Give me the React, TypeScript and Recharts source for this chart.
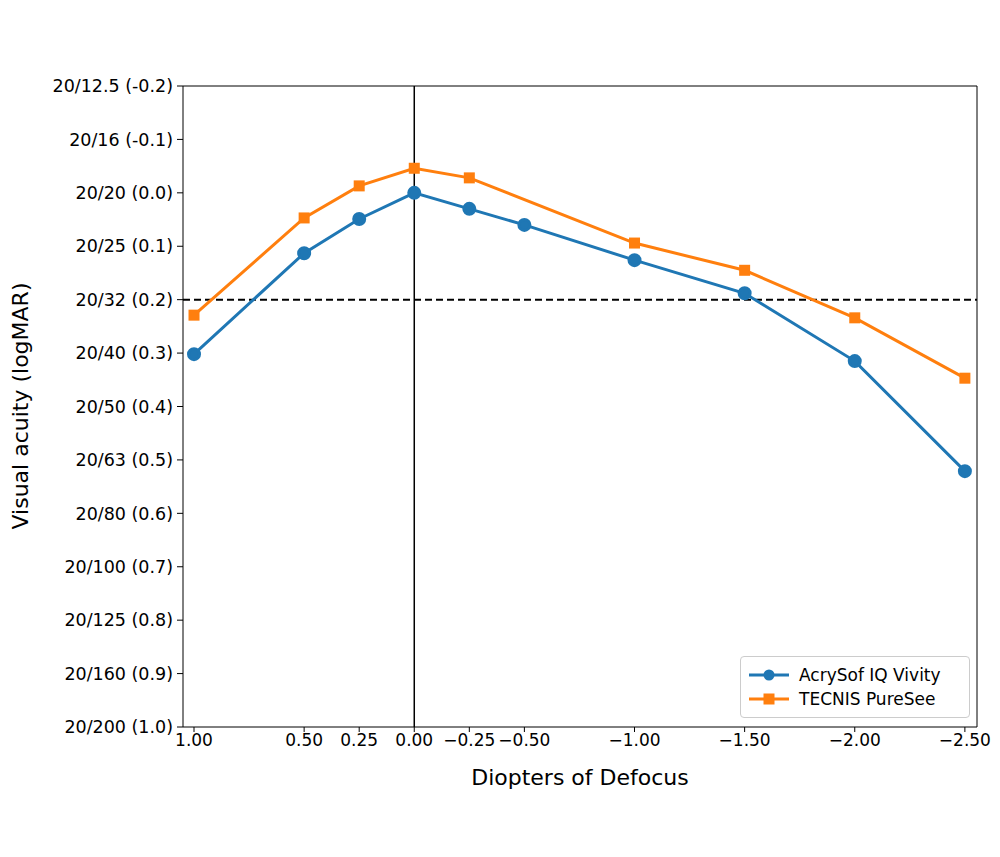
import { LineChart, Line, XAxis, YAxis, ReferenceLine } from 'recharts'

const DEFOCUS = [1.0, 0.5, 0.25, 0.0, -0.25, -0.5, -1.0, -1.5, -2.0, -2.5]
const VIVITY = [0.302, 0.113, 0.049, 0.0, 0.03, 0.06, 0.126, 0.188, 0.315, 0.521]
const PURESEE_X = [1.0, 0.5, 0.25, 0.0, -0.25, -1.0, -1.5, -2.0, -2.5]
const PURESEE = [0.229, 0.047, -0.013, -0.046, -0.028, 0.094, 0.145, 0.234, 0.347]
const Y_TICKS = [-0.2, -0.1, 0, 0.1, 0.2, 0.3, 0.4, 0.5, 0.6, 0.7, 0.8, 0.9, 1.0]
const SNELLEN = ['12.5', '16', '20', '25', '32', '40', '50', '63', '80', '100', '125', '160', '200']

const vivityData = DEFOCUS.map((x, i) => ({ x, v: VIVITY[i] }))
const pureData = PURESEE_X.map((x, i) => ({ x, v: PURESEE[i] }))

const BLUE = '#1f77b4'
const ORANGE = '#ff7f0e'
const FONT = 'DejaVu Sans, sans-serif'

const fmtX = (v: number) => v.toFixed(2).replace('-', '\u2212')
const fmtY = (v: number) => {
  const i = Y_TICKS.findIndex((t) => Math.abs(t - v) < 1e-6)
  return `20/${SNELLEN[i]} (${v.toFixed(1)})`
}

// eslint-disable-next-line @typescript-eslint/no-explicit-any
const Square = (props: any) => {
  const { cx, cy } = props
  return <rect x={cx - 5.5} y={cy - 5.5} width={11} height={11} fill={ORANGE} />
}

export default function App() {
  return (
    <div style={{ position: 'absolute', top: 0, left: 0, width: 1000, height: 857, background: '#fff', fontFamily: FONT }}>
      <LineChart width={1000} height={857} margin={{ top: 86, right: 23, left: 8, bottom: 70 }}>
        <XAxis
          dataKey="x" type="number" domain={[-2.555, 1.05]} reversed ticks={DEFOCUS}
          tickFormatter={fmtX} allowDataOverflow
          tick={{ fill: '#000', fontSize: 17, fontFamily: FONT }}
          stroke="#000" height={60} tickSize={5}
        />
        <YAxis
          type="number" domain={[-0.2, 1.0]} reversed ticks={Y_TICKS} tickFormatter={fmtY}
          tick={{ fill: '#000', fontSize: 17.5, fontFamily: FONT }}
          stroke="#000" width={175} tickSize={6} tickMargin={4}
        />
        <ReferenceLine y={-0.2} stroke="#000" />
        <ReferenceLine x={-2.555} stroke="#000" />
        <ReferenceLine x={0} stroke="#000" strokeWidth={1.5} />
        <ReferenceLine y={0.2} stroke="#000" strokeDasharray="7 4" strokeWidth={2} />
        <Line data={vivityData} dataKey="v" stroke={BLUE} strokeWidth={3}
          dot={{ r: 5.5, fill: BLUE, stroke: BLUE }} isAnimationActive={false} />
        <Line data={pureData} dataKey="v" stroke={ORANGE} strokeWidth={3}
          dot={<Square />} isAnimationActive={false} />
      </LineChart>
      <div style={{ position: 'absolute', left: 0, top: 406, transform: 'translate(-50%,-50%) rotate(-90deg)', marginLeft: 20, fontSize: 22, whiteSpace: 'nowrap' }}>
        Visual acuity (logMAR)
      </div>
      <div style={{ position: 'absolute', left: 580, top: 777, transform: 'translate(-50%,-50%)', fontSize: 22, whiteSpace: 'nowrap' }}>
        Diopters of Defocus
      </div>
      <div style={{ position: 'absolute', left: 740, top: 656, width: 230, height: 62, border: '1px solid #ccc', borderRadius: 4, background: '#fff', fontSize: 17, boxSizing: 'border-box', padding: '6px 8px' }}>
        {[{ c: BLUE, t: 'AcrySof IQ Vivity', sq: false }, { c: ORANGE, t: 'TECNIS PureSee', sq: true }].map((e) => (
          <div key={e.t} style={{ display: 'flex', alignItems: 'center', height: 24 }}>
            <svg width={40} height={14} style={{ marginRight: 10 }}>
              <line x1={0} y1={7} x2={40} y2={7} stroke={e.c} strokeWidth={3} />
              {e.sq ? <rect x={14.5} y={1.5} width={11} height={11} fill={e.c} /> : <circle cx={20} cy={7} r={5.5} fill={e.c} />}
            </svg>
            {e.t}
          </div>
        ))}
      </div>
    </div>
  )
}
